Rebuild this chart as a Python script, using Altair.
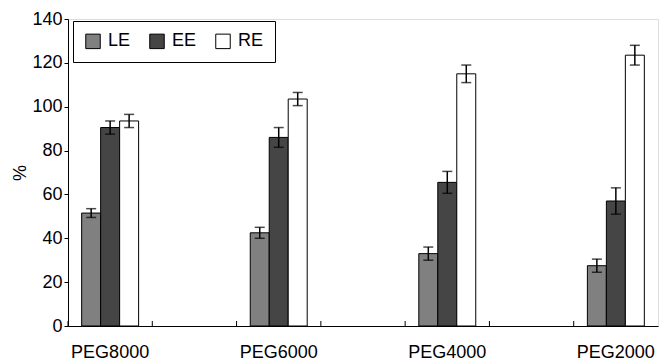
import altair as alt
import pandas as pd

# ---- data ----
categories = ["PEG8000", "PEG6000", "PEG4000", "PEG2000"]
x_domain = ["PEG8000", " ", "PEG6000", "  ", "PEG4000", "   ", "PEG2000"]
series = ["LE", "EE", "RE"]
le_vals = [51.5, 42.5, 33.0, 27.5]
le_err = [2.0, 2.5, 3.0, 3.0]
ee_vals = [90.5, 86.0, 65.5, 57.0]
ee_err = [3.0, 4.5, 5.0, 6.0]
re_vals = [93.5, 103.5, 115.0, 123.5]
re_err = [3.0, 3.0, 4.0, 4.5]
y_ticks = [0, 20, 40, 60, 80, 100, 120, 140]

rows = []
for s, vals, errs in [("LE", le_vals, le_err), ("EE", ee_vals, ee_err), ("RE", re_vals, re_err)]:
    for c, v, e in zip(categories, vals, errs):
        rows.append({"cat": c, "series": s, "value": v, "lo": v - e, "hi": v + e})
df = pd.DataFrame(rows)
tick_df = pd.DataFrame({"cat": x_domain})

FONT = "Liberation Sans"
W, H = 590, 307

x_scale = alt.Scale(domain=x_domain, paddingInner=0, paddingOuter=0)
xoff_scale = alt.Scale(domain=series, paddingInner=0, paddingOuter=0.72)
y_scale = alt.Scale(domain=[0, 140], nice=False)

x_enc = alt.X("cat:N", scale=x_scale, sort=x_domain,
              axis=alt.Axis(title=None, labelAngle=0, ticks=False, labelPadding=17,
                            labelFontSize=18, labelFont=FONT, labelColor="black",
                            domainColor="black", grid=False))
y_enc = alt.Y("value:Q", scale=y_scale,
              axis=alt.Axis(title="%", values=y_ticks, tickSize=4, labelPadding=2,
                            labelFontSize=18, labelFont=FONT, labelColor="black",
                            titleFontSize=18, titleFont=FONT, titleFontWeight="normal",
                            titleColor="black", titlePadding=2,
                            domainColor="black", tickColor="black", grid=False))

bars = alt.Chart(df).mark_bar(stroke="black", strokeWidth=1).encode(
    x=x_enc,
    xOffset=alt.XOffset("series:N", scale=xoff_scale, sort=series),
    y=y_enc,
    fill=alt.Fill("series:N", sort=series,
                  scale=alt.Scale(domain=series, range=["#808080", "#454545", "#ffffff"]),
                  legend=alt.Legend(title=None, orient="none", legendX=5, legendY=2,
                                    direction="horizontal", symbolType="square",
                                    symbolSize=210, symbolStrokeColor="black",
                                    symbolStrokeWidth=1, labelFontSize=18, labelFont=FONT,
                                    labelColor="black", labelOffset=6, columnPadding=16,
                                    padding=11, strokeColor="black", fillColor="white")),
)

err = alt.Chart(df).mark_rule(color="black", strokeWidth=1.5).encode(
    x=alt.X("cat:N", scale=x_scale, sort=x_domain),
    xOffset=alt.XOffset("series:N", scale=xoff_scale, sort=series),
    y=alt.Y("lo:Q", scale=y_scale),
    y2="hi:Q",
)
cap_lo = alt.Chart(df).mark_tick(color="black", thickness=1.5, size=10, orient="horizontal").encode(
    x=alt.X("cat:N", scale=x_scale, sort=x_domain),
    xOffset=alt.XOffset("series:N", scale=xoff_scale, sort=series),
    y=alt.Y("lo:Q", scale=y_scale),
)
cap_hi = alt.Chart(df).mark_tick(color="black", thickness=1.5, size=10, orient="horizontal").encode(
    x=alt.X("cat:N", scale=x_scale, sort=x_domain),
    xOffset=alt.XOffset("series:N", scale=xoff_scale, sort=series),
    y=alt.Y("hi:Q", scale=y_scale),
)

xticks = alt.Chart(tick_df).mark_rule(color="black", strokeWidth=1).encode(
    x=alt.X("cat:N", scale=x_scale, sort=x_domain, bandPosition=0),
    y=alt.value(H - 5),
    y2=alt.value(H),
)

chart = alt.layer(bars, err, cap_lo, cap_hi, xticks).properties(
    width=W, height=H,
    autosize=alt.AutoSizeParams(type="none"),
    padding={"left": 68, "top": 19, "right": 1, "bottom": 37},
).configure_view(stroke="black", strokeWidth=1).configure(background="white")

chart.save("out.html", embed_options={"renderer": "svg", "actions": False})
